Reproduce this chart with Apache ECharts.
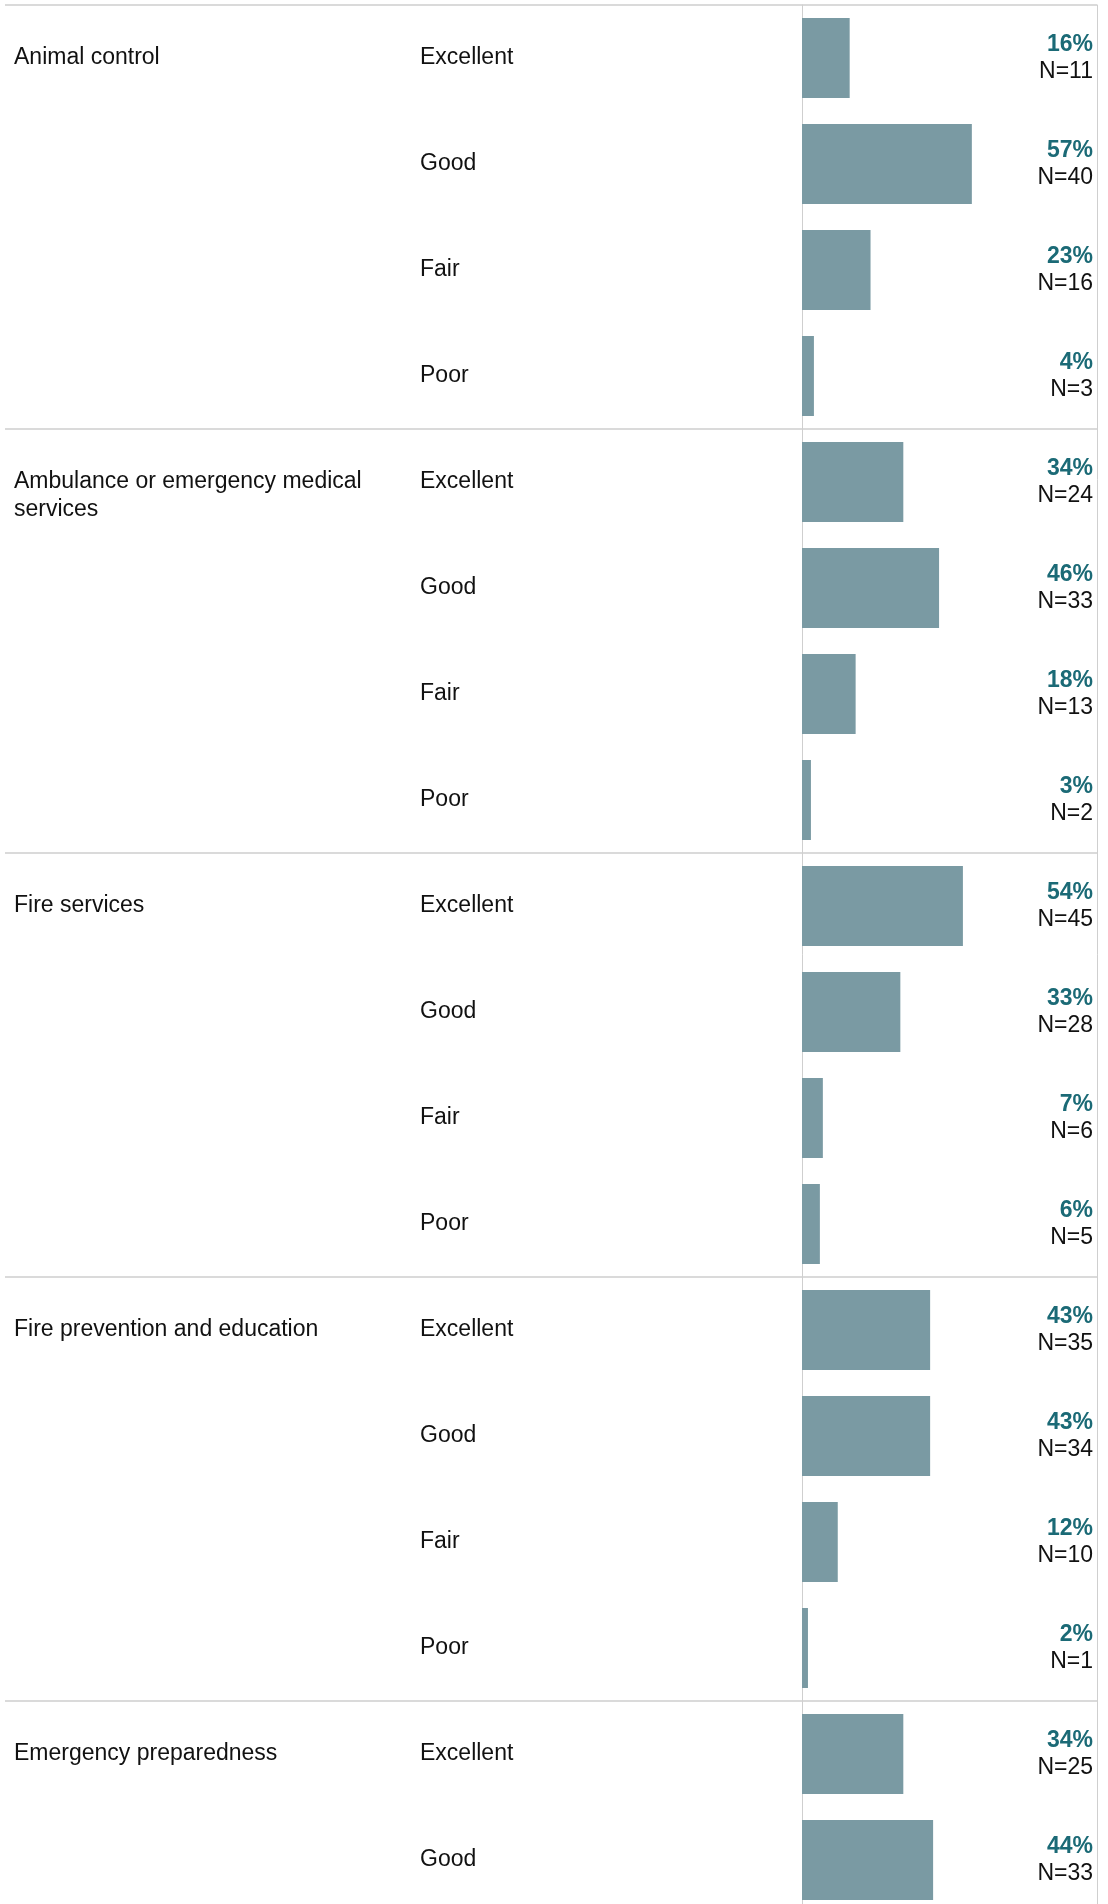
<!DOCTYPE html>
<html>
<head>
<meta charset="utf-8">
<script src="https://cdn.jsdelivr.net/npm/echarts@6/dist/echarts.min.js"></script>
<style>
  html, body { margin: 0; padding: 0; background: #fff; }
  #chart { width: 1108px; height: 1904px; }
</style>
</head>
<body>
<div id="chart"></div>
<script>
// services, one block of rating rows each (the last block is cut off after "Good")
const services = [
  'Animal control',
  'Ambulance or emergency medical services',
  'Fire services',
  'Fire prevention and education',
  'Emergency preparedness'
];
const ratings = ['Excellent', 'Good', 'Fair', 'Poor'];

// share of answers per row, in %
const percents = [16, 57, 23, 4, 34, 46, 18, 3, 54, 33, 7, 6, 43, 43, 12, 2, 34, 44];
// number of answers per row
const counts = [11, 40, 16, 3, 24, 33, 13, 2, 45, 28, 6, 5, 35, 34, 10, 1, 25, 33];

const perGroup = ratings.length;
const rowKeys = percents.map((_, i) => 'row' + i);

const FONT = '"Liberation Sans", Arial, sans-serif';
const SIZE = 23;
const SEP = '#dadada';
const AXIS = '#cfcfcf';

// break long service names into lines of at most maxChars
function wrap(text, maxChars) {
  const lines = [];
  let cur = '';
  text.split(' ').forEach(w => {
    if (cur && (cur + ' ' + w).length > maxChars) {
      lines.push(cur);
      cur = w;
    } else {
      cur = cur ? cur + ' ' + w : w;
    }
  });
  if (cur) lines.push(cur);
  return lines;
}

const chart = echarts.init(document.getElementById('chart'));

const common = { top: 5, height: 1908, containLabel: false, outerBoundsMode: 'none' };

const option = {
  animation: false,
  textStyle: { fontFamily: FONT },
  grid: [
    // frame: group separators + right border
    Object.assign({ left: 5, right: 11 }, common),
    // bars + rating names
    Object.assign({ left: 802, right: 11 }, common),
    // service names
    Object.assign({ left: 14, width: 340 }, common)
  ],
  xAxis: [
    { gridIndex: 0, type: 'value', min: 0, max: 1, show: false },
    { gridIndex: 1, type: 'value', min: 0, max: 99, show: false },
    { gridIndex: 2, type: 'value', min: 0, max: 1, show: false }
  ],
  yAxis: [
    {
      gridIndex: 0,
      type: 'value',
      inverse: true,
      min: 0,
      max: rowKeys.length,
      interval: perGroup,
      position: 'right',
      axisLine: { show: true, onZero: false, lineStyle: { color: AXIS, width: 1 } },
      axisTick: { show: false },
      axisLabel: { show: false },
      splitLine: { show: true, lineStyle: { color: SEP, width: 2 } }
    },
    {
      gridIndex: 1,
      type: 'category',
      inverse: true,
      position: 'left',
      data: rowKeys,
      axisLine: { show: true, onZero: false, lineStyle: { color: AXIS, width: 1 } },
      axisTick: { show: false },
      axisLabel: {
        interval: 0,
        margin: 382,
        align: 'left',
        fontFamily: FONT,
        fontSize: SIZE,
        padding: [7, 0, 0, 0],
        color: '#111',
        formatter: (v, i) => ratings[i % perGroup]
      }
    },
    {
      gridIndex: 2,
      type: 'category',
      inverse: true,
      position: 'left',
      data: rowKeys,
      axisLine: { show: false, onZero: false },
      axisTick: { show: false },
      axisLabel: {
        inside: true,
        interval: 0,
        margin: 0,
        align: 'left',
        fontFamily: FONT,
        fontSize: SIZE,
        lineHeight: 28,
        color: '#111',
        formatter: (v, i) => {
          if (i % perGroup) return '';
          const lines = wrap(services[i / perGroup], 30);
          // pad on top so the first line stays on the row centre
          return '\n'.repeat(lines.length - 1) + lines.join('\n');
        }
      }
    }
  ],
  series: [
    {
      type: 'bar',
      xAxisIndex: 1,
      yAxisIndex: 1,
      data: percents,
      barWidth: 80,
      itemStyle: { color: '#7a9aa3' },
      silent: true
    },
    {
      // invisible full-width bar, only carries the value labels at the right edge
      type: 'bar',
      xAxisIndex: 1,
      yAxisIndex: 1,
      data: percents.map(() => 99),
      barWidth: 80,
      barGap: '-100%',
      itemStyle: { color: 'rgba(0,0,0,0)' },
      silent: true,
      label: {
        show: true,
        position: 'insideRight',
        distance: 4,
        formatter: p => `{p|${percents[p.dataIndex]}%}\n{n|N=${counts[p.dataIndex]}}`,
        rich: {
          p: { fontFamily: FONT, fontSize: SIZE, fontWeight: 'bold', color: '#1b6a76', lineHeight: 28, align: 'right', padding: [2, 0, 0, 0] },
          n: { fontFamily: FONT, fontSize: SIZE, color: '#111', lineHeight: 28, align: 'right' }
        }
      }
    }
  ]
};

chart.setOption(option);
</script>
</body>
</html>
